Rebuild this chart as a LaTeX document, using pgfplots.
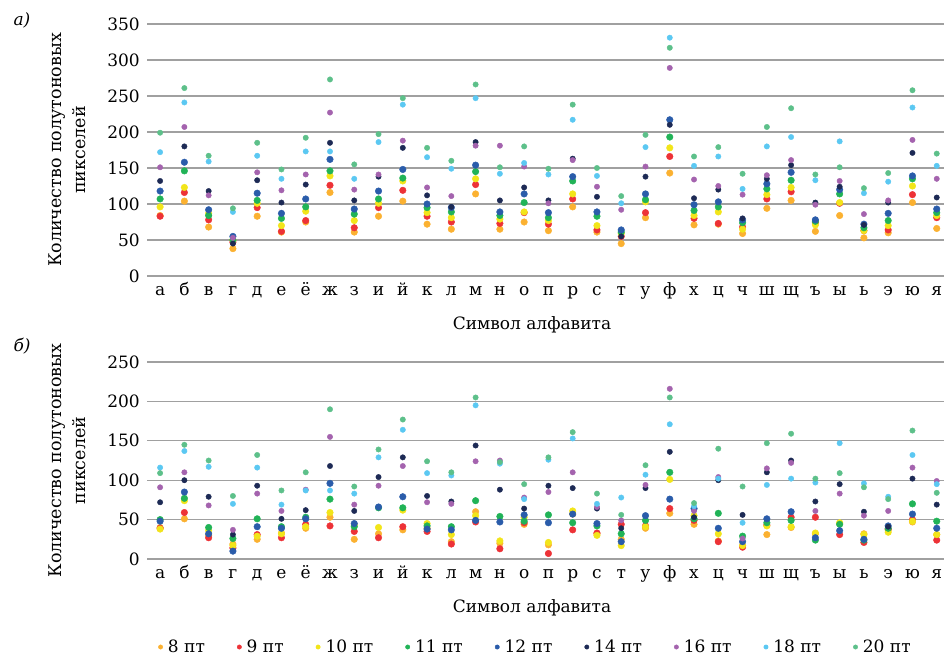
\documentclass[border=0pt]{standalone}
\usepackage{fontspec}
\setmainfont{DejaVu Serif}
\usepackage{pgfplots}
\pgfplotsset{compat=1.18}
\usepackage{pgfplotstable}

\definecolor{c8}{HTML}{FBB131}
\definecolor{c9}{HTML}{ED3237}
\definecolor{c10}{HTML}{F2E51A}
\definecolor{c11}{HTML}{21B357}
\definecolor{c12}{HTML}{2A5CAA}
\definecolor{c14}{HTML}{1D2A55}
\definecolor{c16}{HTML}{A463AE}
\definecolor{c18}{HTML}{5BC8F2}
\definecolor{c20}{HTML}{5DC08A}
\definecolor{gridc}{HTML}{A0A0A0}

% panel a) -- columns: letter index, then 8 9 10 11 12 14 16 18 20 pt
\pgfplotstableread{
x  s8  s9  s10 s11 s12 s14 s16 s18 s20
0  84  83  96  107 118 132 151 172 199
1  104 116 123 146 158 180 207 241 261
2  68  78  87  84  92  118 112 159 167
3  38  47  50  50  55  45  53  89  94
4  83  95  101 105 115 133 144 167 185
5  61  62  70  80  87  102 119 135 148
6  75  77  90  96  107 127 141 173 192
7  116 126 139 146 162 185 227 173 273
8  61  67  77  86  93  105 120 135 155
9  83  95  101 107 118 138 141 186 197
10 104 119 132 136 148 178 188 238 247
11 72  83  88  95  100 112 123 165 178
12 65  75  81  89  95  96  111 149 160
13 114 127 135 145 154 186 181 247 266
14 65  73  79  84  89  105 181 142 151
15 75  88  89  102 114 123 152 157 180
16 63  72  77  81  88  105 101 141 149
17 96  107 114 132 138 163 161 217 238
18 61  64  70  83  89  110 124 139 150
19 45  55  59  61  64  55  92  101 111
20 81  88  103 106 114 138 152 179 196
21 143 166 178 193 217 210 289 331 317
22 71  80  84  91  99  108 134 153 166
23 72  73  89  96  103 120 125 166 179
24 59  68  65  74  78  80  113 121 142
25 94  107 113 121 128 135 140 180 207
26 105 117 123 133 144 154 161 193 233
27 62  74  71  76  78  102 99  133 141
28 84  101 102 114 120 124 132 187 151
29 53  63  63  67  72  71  86  115 122
30 60  64  70  77  87  102 105 131 143
31 102 113 125 135 139 171 189 234 258
32 66  81  84  88  93  109 135 153 170
}\dataA

% panel b)
\pgfplotstableread{
x  s8  s9  s10 s11 s12 s14 s16 s18 s20
0  40  39  38  50  48  72  91  116 109
1  51  59  74  77  85  100 110 137 145
2  30  27  36  40  32  79  68  117 125
3  19  14  17  26  10  31  37  70  80
4  25  31  29  51  41  93  83  116 132
5  33  27  32  41  39  51  61  69  87
6  39  44  41  53  51  62  88  87  110
7  53  42  59  76  96  118 155 87  190
8  25  35  43  41  45  61  69  83  92
9  32  27  40  65  66  104 93  129 139
10 37  41  62  65  79  129 118 164 177
11 39  35  45  42  38  80  72  109 124
12 22  19  31  41  37  73  70  106 110
13 60  47  55  74  49  144 124 195 205
14 20  13  23  54  47  88  125 121 123
15 44  46  53  48  56  64  78  76  95
16 18  7   21  56  46  93  85  126 129
17 57  37  61  46  57  90  110 153 161
18 32  33  30  42  45  64  66  70  83
19 25  44  17  32  22  39  49  78  56
20 39  42  41  49  55  90  94  107 119
21 58  64  101 110 76  136 216 171 205
22 44  49  55  51  64  53  61  67  71
23 23  22  32  58  39  100 104 102 140
24 17  15  17  29  22  56  26  46  92
25 31  43  42  46  51  110 115 94  147
26 40  53  41  49  60  125 122 102 159
27 32  53  33  24  27  73  61  97  102
28 45  31  46  44  36  95  83  147 109
29 32  21  31  24  25  60  55  96  91
30 37  38  34  39  42  41  61  79  76
31 47  50  48  70  57  102 116 132 163
32 31  24  31  48  39  69  99  95  84
}\dataB

\pgfplotsset{
  panel/.style={
    scale only axis, width=797pt,
    xmin=-0.54, xmax=32.3, ymin=0,
    xtick={0,...,32},
    xticklabels={а,б,в,г,д,е,ё,ж,з,и,й,к,л,м,н,о,п,р,с,т,у,ф,х,ц,ч,ш,щ,ъ,ы,ь,э,ю,я},
    axis line style={draw=none}, major tick length=0pt,
    ymajorgrids, grid style={line width=1.2pt, gridc},
    tick label style={font=\fontsize{17}{20}\selectfont},
    label style={font=\fontsize{17}{24}\selectfont},
    /pgf/number format/assume math mode=true,
    xticklabel style={anchor=base, yshift=-19pt},
    yticklabel style={anchor=east, inner sep=0pt, xshift=-7pt},
    xlabel={Символ алфавита},
    xlabel style={at={(axis description cs:0.483,0)}, anchor=center, yshift=-49pt},
    ylabel={Количество полутоновых\\пикселей},
    ylabel style={align=center, font=\fontsize{17.5}{24}\selectfont,
      at={(axis description cs:-0.0998,0.5)}, anchor=center},
    only marks, clip=false,
  },
  big/.style={mark=*, mark size=3.3pt, mark options={draw=none, fill=#1}, color=#1},
  small/.style={mark=*, mark size=2.7pt, mark options={draw=none, fill=#1}, color=#1},
}

\begin{document}
\begin{tikzpicture}
\path[use as bounding box] (0,0) rectangle (944pt,-656pt);

\begin{axis}[panel, at={(147pt,-276pt)}, anchor=south west, height=252pt,
  ymax=350, ytick={0,50,...,350}]
\addplot[big=c8]    table[x=x, y=s8]  {\dataA};
\addplot[big=c9]    table[x=x, y=s9]  {\dataA};
\addplot[big=c10]   table[x=x, y=s10] {\dataA};
\addplot[big=c11]   table[x=x, y=s11] {\dataA};
\addplot[big=c12]   table[x=x, y=s12] {\dataA};
\addplot[small=c14] table[x=x, y=s14] {\dataA};
\addplot[small=c16] table[x=x, y=s16] {\dataA};
\addplot[small=c18] table[x=x, y=s18] {\dataA};
\addplot[small=c20] table[x=x, y=s20] {\dataA};
\end{axis}

\begin{axis}[panel, at={(147pt,-559pt)}, anchor=south west, height=197pt,
  ymax=250, ytick={0,50,...,250},
  legend columns=9,
  legend image code/.code={\fill[#1] (0pt,0pt) circle (2.2pt);},
  legend style={at={(axis description cs:0.0138,0)}, anchor=west, yshift=-88pt,
    draw=none, fill=none, inner sep=0pt,
    font=\fontsize{17}{20}\selectfont,
    /tikz/every odd column/.append style={column sep=3pt},
    /tikz/every even column/.append style={column sep=30pt}}]
\addplot[big=c8]    table[x=x, y=s8]  {\dataB};
\addplot[big=c9]    table[x=x, y=s9]  {\dataB};
\addplot[big=c10]   table[x=x, y=s10] {\dataB};
\addplot[big=c11]   table[x=x, y=s11] {\dataB};
\addplot[big=c12]   table[x=x, y=s12] {\dataB};
\addplot[small=c14] table[x=x, y=s14] {\dataB};
\addplot[small=c16] table[x=x, y=s16] {\dataB};
\addplot[small=c18] table[x=x, y=s18] {\dataB};
\addplot[small=c20] table[x=x, y=s20] {\dataB};
\legend{8 пт,9 пт,10 пт,11 пт,12 пт,14 пт,16 пт,18 пт,20 пт}
\end{axis}

\node[anchor=base west, font=\fontsize{17}{20}\selectfont\itshape] at (10pt,-25pt) {а)};
\node[anchor=base west, font=\fontsize{17}{20}\selectfont\itshape] at (10pt,-351pt) {б)};
\end{tikzpicture}
\end{document}
